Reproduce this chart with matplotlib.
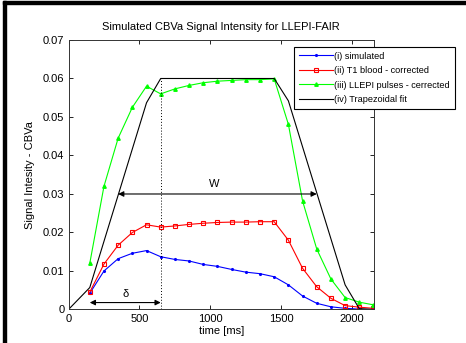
import matplotlib
matplotlib.use("Agg")
import matplotlib.pyplot as plt
from matplotlib.patches import Rectangle

plt.rcParams['font.family'] = ['Liberation Sans', 'DejaVu Sans']

t = [150, 250, 350, 450, 550, 650, 750, 850, 950, 1050, 1150,
     1250, 1350, 1450, 1550, 1650, 1750, 1850, 1950, 2050, 2150]
simulated = [0.0042, 0.0100, 0.0132, 0.0146, 0.0153, 0.0137, 0.0130, 0.0126, 0.0117, 0.0112, 0.0104,
             0.0097, 0.0093, 0.0085, 0.0064, 0.0035, 0.0016, 0.0007, 0.0003, 0.0001, 0.0000]
t1_corrected = [0.0045, 0.0118, 0.0167, 0.0200, 0.0220, 0.0214, 0.0217, 0.0221, 0.0224, 0.0226, 0.0227,
                0.0227, 0.0228, 0.0228, 0.0180, 0.0107, 0.0059, 0.0029, 0.0010, 0.0006, 0.0003]
llepi_corrected = [0.0120, 0.0320, 0.0445, 0.0525, 0.0580, 0.0560, 0.0573, 0.0582, 0.0589, 0.0593, 0.0595,
                   0.0597, 0.0597, 0.0599, 0.0481, 0.0282, 0.0157, 0.0079, 0.0031, 0.0019, 0.0012]
trap_t = [0, 150, 550, 650, 1450, 1550, 1950, 2050, 2150]
trap_v = [0.0, 0.0057, 0.0537, 0.0600, 0.0600, 0.0542, 0.0064, 0.0002, 0.0]

labels = ['(i) simulated', '(ii) T1 blood - corrected',
          '(iii) LLEPI pulses - cerrected', '(iv) Trapezoidal fit']
delta_range = [150, 650]
w_range = [350, 1750]

fig = plt.figure(figsize=(4.66, 3.43), dpi=100)
ax = fig.add_axes([0.147, 0.0977, 0.656, 0.7857])

ax.plot(t, simulated, color='blue', marker='.', markersize=2.5, lw=0.8, label=labels[0])
ax.plot(t, t1_corrected, color='red', marker='s', markersize=3.2, mfc='none', mew=0.8, lw=0.8, label=labels[1])
ax.plot(t, llepi_corrected, color='#00ff00', marker='^', markersize=2.5, lw=0.8, label=labels[2])
ax.plot(trap_t, trap_v, color='black', lw=0.8, label=labels[3])

ax.plot([650, 650], [0, 0.06], color='black', lw=0.7, ls=(0, (1, 2)))

arrowprops = dict(arrowstyle='<|-|>', color='black', lw=0.8, mutation_scale=8, shrinkA=0, shrinkB=0)
ax.annotate('', xy=(delta_range[0], 0.0018), xytext=(delta_range[1], 0.0018), arrowprops=arrowprops)
ax.text(400, 0.0028, 'δ', ha='center', va='bottom', fontsize=8)
ax.annotate('', xy=(w_range[0], 0.030), xytext=(w_range[1], 0.030), arrowprops=arrowprops)
ax.text(1030, 0.0312, 'W', ha='center', va='bottom', fontsize=8)

ax.set_xlim(0, 2155)
ax.set_ylim(0, 0.07)
ax.set_xticks([0, 500, 1000, 1500, 2000])
ax.set_yticks([0, 0.01, 0.02, 0.03, 0.04, 0.05, 0.06, 0.07])
ax.set_yticklabels(['0', '0.01', '0.02', '0.03', '0.04', '0.05', '0.06', '0.07'])
ax.tick_params(direction='in', top=True, right=True, labelsize=8, length=3, width=0.6, pad=3)
for s in ax.spines.values():
    s.set_linewidth(0.7)
    s.set_color('#333333')
ax.set_xlabel('time [ms]', fontsize=8, labelpad=2)
ax.set_ylabel('Signal Intesity - CBVa', fontsize=8, labelpad=6)
ax.set_title('Simulated CBVa Signal Intensity for LLEPI-FAIR', fontsize=8, pad=7)

leg = ax.legend(loc='upper left', bbox_to_anchor=(294 / 466, 1 - 47 / 343),
                bbox_transform=fig.transFigure, fontsize=6.6, frameon=True, fancybox=False,
                edgecolor='black', framealpha=1, handlelength=3.7, handletextpad=0.2,
                borderpad=0.5, labelspacing=0.6, borderaxespad=0)
leg.get_frame().set_linewidth(0.8)

# figure border (left and top)
fig.patches.append(Rectangle((3 / 466, 0), 2.5 / 466, 1 - 1 / 343, transform=fig.transFigure,
                             color='black', zorder=10))
fig.patches.append(Rectangle((3 / 466, 1 - 3.5 / 343), 1, 2.5 / 343, transform=fig.transFigure,
                             color='black', zorder=10))

fig.savefig('out.png', dpi=100)
